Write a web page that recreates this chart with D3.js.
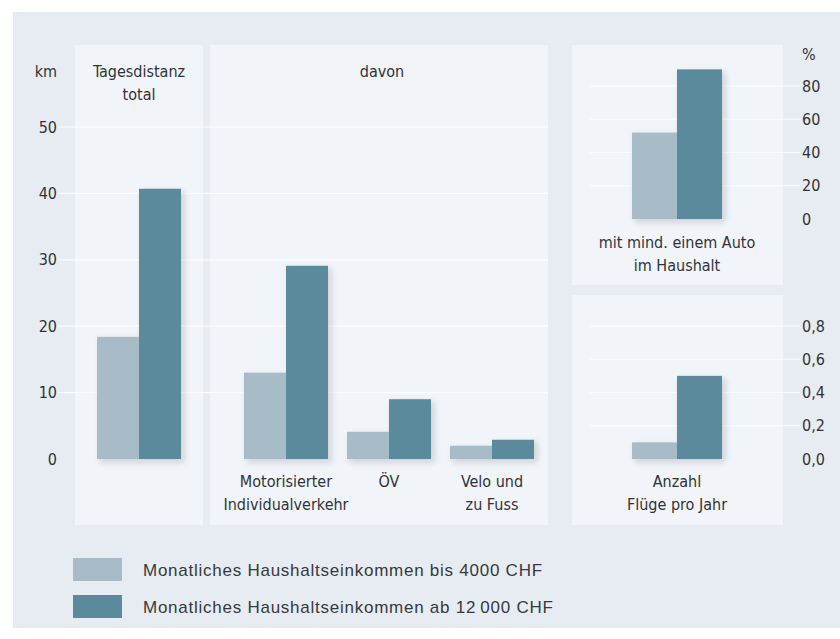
<!DOCTYPE html>
<html>
<head>
<meta charset="utf-8">
<script src="https://cdn.jsdelivr.net/npm/d3@7"></script>
<style>
  html, body { margin: 0; padding: 0; background: #ffffff; }
  svg { display: block; }
  .lbl { font-family: "Liberation Sans Narrow", "DejaVu Sans Condensed", "Liberation Sans", sans-serif; fill: #303338; }
  .legend { font-family: "Liberation Sans", Arial, sans-serif; fill: #36393d; }
</style>
</head>
<body>
<script>
// Tagesdistanz (km) nach Haushaltseinkommen
const kmGroups = ["Tagesdistanz total", "Motorisierter Individualverkehr", "ÖV", "Velo und zu Fuss"];
const kmLow = [18.4, 13.0, 4.1, 2.0];
const kmHigh = [40.7, 29.1, 9.0, 2.9];

// Anteil Haushalte mit mind. einem Auto (%)
const carLabel = "mit mind. einem Auto im Haushalt";
const carShare = [52, 90];

// Anzahl Flüge pro Jahr
const flightLabel = "Anzahl Flüge pro Jahr";
const flights = [0.1, 0.5];

const seriesNames = [
  "Monatliches Haushaltseinkommen bis 4000 CHF",
  "Monatliches Haushaltseinkommen ab 12\u2009000 CHF"
];
const seriesColors = ["#a8bcc8", "#5a8a9c"];

const kmTicks = [0, 10, 20, 30, 40, 50];
const pctTicks = [0, 20, 40, 60, 80];
const flightTicks = [0, 0.2, 0.4, 0.6, 0.8];

const W = 840, H = 639;
const svg = d3.select("body").append("svg").attr("width", W).attr("height", H);

const defs = svg.append("defs");
const shadow = defs.append("filter").attr("id", "barShadow")
  .attr("x", "-20%").attr("y", "-20%").attr("width", "150%").attr("height", "150%");
shadow.append("feDropShadow").attr("dx", 3).attr("dy", 3).attr("stdDeviation", 3)
  .attr("flood-color", "#203040").attr("flood-opacity", 0.18);

// Hintergrund
svg.append("rect").attr("x", 13).attr("y", 12).attr("width", W - 13).attr("height", 616).attr("fill", "#e7ecf3");

// Panels
const panels = [
  { x: 75, y: 45, w: 128, h: 480 },
  { x: 210, y: 45, w: 338, h: 480 },
  { x: 572, y: 45, w: 211, h: 240 },
  { x: 572, y: 295, w: 211, h: 230 }
];
svg.append("g").selectAll("rect").data(panels).join("rect")
  .attr("x", d => d.x).attr("y", d => d.y).attr("width", d => d.w).attr("height", d => d.h)
  .attr("fill", "#f1f4f8");

// Skalen
const yKm = d3.scaleLinear().domain([0, 50]).range([459, 127]);
const yPct = d3.scaleLinear().domain([0, 80]).range([219, 86]);
const yFl = d3.scaleLinear().domain([0, 0.8]).range([459, 326]);

const xTotal = d3.scaleBand().domain(kmGroups.slice(0, 1)).range([97, 181]).padding(0);
const xDavon = d3.scaleBand().domain(kmGroups.slice(1)).range([234.5, 543.5])
  .paddingInner(0.184).paddingOuter(0.092);
const xRight = d3.scaleBand().domain([carLabel]).range([632, 722]).padding(0);

const de = d3.formatLocale({ decimal: ",", thousands: "\u2009", grouping: [3], currency: ["", " CHF"] });

// Hilfslinien
const grid = svg.append("g").attr("stroke", "#ffffff").attr("stroke-width", 1.2).attr("opacity", 0.85);
grid.selectAll(".gk").data(kmTicks.slice(1)).join("line")
  .attr("x1", 58).attr("x2", 548).attr("y1", d => yKm(d)).attr("y2", d => yKm(d));
grid.selectAll(".gp").data(pctTicks.slice(1)).join("line")
  .attr("class", "gp")
  .attr("x1", 590).attr("x2", 800).attr("y1", d => yPct(d)).attr("y2", d => yPct(d));
grid.selectAll(".gf").data(flightTicks.slice(1)).join("line")
  .attr("class", "gf")
  .attr("x1", 590).attr("x2", 800).attr("y1", d => yFl(d)).attr("y2", d => yFl(d));

// Balken
function drawBars(xScale, cats, low, high, yScale) {
  const inner = d3.scaleBand().domain([0, 1]).range([0, xScale.bandwidth()]);
  const rows = [];
  cats.forEach((c, i) => {
    [low[i], high[i]].forEach((v, s) => rows.push({ c, s, v }));
  });
  svg.append("g").attr("filter", "url(#barShadow)")
    .selectAll("rect").data(rows).join("rect")
    .attr("x", d => xScale(d.c) + inner(d.s))
    .attr("width", inner.bandwidth())
    .attr("y", d => yScale(d.v))
    .attr("height", d => yScale(0) - yScale(d.v))
    .attr("fill", d => seriesColors[d.s]);
}
drawBars(xTotal, kmGroups.slice(0, 1), kmLow.slice(0, 1), kmHigh.slice(0, 1), yKm);
drawBars(xDavon, kmGroups.slice(1), kmLow.slice(1), kmHigh.slice(1), yKm);
drawBars(xRight, [carLabel], [carShare[0]], [carShare[1]], yPct);
const xRight2 = xRight.copy().domain([flightLabel]);
drawBars(xRight2, [flightLabel], [flights[0]], [flights[1]], yFl);

// Achsen
function styleAxis(g) {
  g.select(".domain").remove();
  g.selectAll(".tick line").remove();
  g.selectAll(".tick text").attr("class", "lbl").attr("font-size", 16).attr("fill", "#3c3f44");
  g.attr("font-family", null).attr("font-size", null);
}
svg.append("g").attr("transform", "translate(57,0)")
  .call(d3.axisLeft(yKm).tickValues(kmTicks).tickSize(0).tickPadding(0).tickFormat(d3.format("d")))
  .call(styleAxis);
svg.append("g").attr("transform", "translate(802,0)")
  .call(d3.axisRight(yPct).tickValues(pctTicks).tickSize(0).tickPadding(0).tickFormat(d3.format("d")))
  .call(styleAxis);
svg.append("g").attr("transform", "translate(802,0)")
  .call(d3.axisRight(yFl).tickValues(flightTicks).tickSize(0).tickPadding(0).tickFormat(de.format(".1f")))
  .call(styleAxis);

// Texte
function multiline(x, y, lines, size) {
  const t = svg.append("text").attr("class", "lbl").attr("x", x).attr("y", y)
    .attr("text-anchor", "middle").attr("font-size", size || 16);
  lines.forEach((l, i) => t.append("tspan").attr("x", x).attr("dy", i === 0 ? 0 : 23).text(l));
}
svg.append("text").attr("class", "lbl").attr("x", 57).attr("y", 77).attr("text-anchor", "end").attr("font-size", 16).text("km");
svg.append("text").attr("class", "lbl").attr("x", 802).attr("y", 60).attr("font-size", 16).text("%");

multiline(xTotal(kmGroups[0]) + xTotal.bandwidth() / 2, 77, ["Tagesdistanz", "total"]);
multiline(382, 77, ["davon"]);

const catLines = {
  "Motorisierter Individualverkehr": ["Motorisierter", "Individualverkehr"],
  "ÖV": ["ÖV"],
  "Velo und zu Fuss": ["Velo und", "zu Fuss"]
};
kmGroups.slice(1).forEach(c => multiline(xDavon(c) + xDavon.bandwidth() / 2, 487, catLines[c]));
multiline(xRight(carLabel) + xRight.bandwidth() / 2, 248, ["mit mind. einem Auto", "im Haushalt"]);
multiline(xRight2(flightLabel) + xRight2.bandwidth() / 2, 487, ["Anzahl", "Flüge pro Jahr"]);

// Legende
const leg = svg.append("g").attr("transform", "translate(73,558)");
const li = leg.selectAll("g").data(seriesNames).join("g").attr("transform", (d, i) => `translate(0,${i * 37})`);
li.append("rect").attr("width", 49).attr("height", 23).attr("fill", (d, i) => seriesColors[i]);
li.append("text").attr("class", "legend").attr("x", 70).attr("y", 12).attr("dy", "0.35em")
  .attr("font-size", 17).attr("letter-spacing", 0.75).text(d => d);
</script>
</body>
</html>
